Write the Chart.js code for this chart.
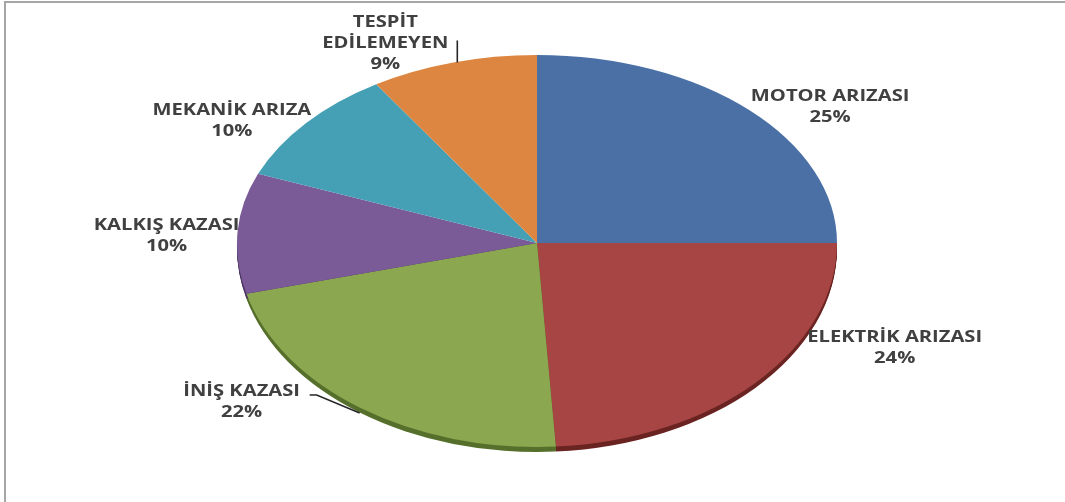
<!DOCTYPE html>
<html>
<head>
<meta charset="utf-8">
<script src="https://cdn.jsdelivr.net/npm/chart.js@4.4.1/dist/chart.umd.min.js"></script>
<style>
  html, body { margin: 0; padding: 0; background: #ffffff; }
  #wrap { position: relative; width: 1065px; height: 502px; overflow: hidden; }
  #frame { position: absolute; left: 4px; top: 1px; width: 1070px; height: 520px;
           border-left: 2px solid #a6a6a6; border-top: 2px solid #a6a6a6; box-sizing: border-box; }
  canvas { position: absolute; left: 0; top: 0; }
</style>
</head>
<body>
<div id="wrap">
  <div id="frame"></div>
  <canvas id="c" width="1065" height="502"></canvas>
</div>
<script>
// Arıza / kaza nedenleri (yüzde)
const categories = ['MOTOR ARIZASI', 'ELEKTRİK ARIZASI', 'İNİŞ KAZASI', 'KALKIŞ KAZASI', 'MEKANİK ARIZA', 'TESPİT EDİLEMEYEN'];
const values = [25, 24, 22, 10, 10, 9];
const labelLines = [['MOTOR ARIZASI'], ['ELEKTRİK ARIZASI'], ['İNİŞ KAZASI'], ['KALKIŞ KAZASI'], ['MEKANİK ARIZA'], ['TESPİT', 'EDİLEMEYEN']];

const sliceColors = ['#4a70a6', '#a64543', '#8ba74f', '#7a5a97', '#45a0b5', '#dc8641'];
const sideColors  = ['#2f4a70', '#6a2422', '#56702c', '#4c3663', '#2a6676', '#935424'];

// Tilted disc: half-axes of the top face (far half is flatter than the near half)
const RX = 300, RY_FAR = 188, RY_NEAR = 204;
const DEPTH = 5;

// Label placement relative to the rim point at each slice's mid-angle
const labelOffsets = [[81, -3], [139, -35], [-119, -6], [-71, 5], [-74, -2], [-68, -19]];

function rimPoint(cx, cy, ang) {
  const s = Math.sin(ang);
  return { x: cx + Math.cos(ang) * RX, y: cy + s * (s < 0 ? RY_FAR : RY_NEAR) };
}

const tiltedPie = {
  id: 'tiltedPie',
  beforeDatasetsDraw(chart) {
    const ctx = chart.ctx;
    const arcs = chart.getDatasetMeta(0).data;
    const cx = arcs[0].x, cy = arcs[0].y, r = arcs[0].outerRadius;
    const W = chart.width, H = chart.height;
    // side wall of the disc (only the near half shows)
    ctx.save();
    ctx.beginPath();
    ctx.rect(0, cy, W, H - cy);
    ctx.clip();
    arcs.forEach((a, i) => {
      ctx.fillStyle = sideColors[i];
      for (let d = DEPTH; d >= 1; d--) {
        ctx.beginPath();
        ctx.moveTo(cx, cy + d);
        ctx.ellipse(cx, cy + d, RX, RY_NEAR, 0, a.startAngle, a.endAngle);
        ctx.closePath();
        ctx.fill();
      }
    });
    ctx.restore();
    // top face: far and near halves drawn with their own vertical scale
    [[0, cy, RY_FAR], [cy, H - cy, RY_NEAR]].forEach(([y0, h, ry]) => {
      ctx.save();
      ctx.beginPath();
      ctx.rect(0, y0, W, h);
      ctx.clip();
      ctx.translate(cx, cy);
      ctx.scale(RX / r, ry / r);
      ctx.translate(-cx, -cy);
      arcs.forEach(a => a.draw(ctx));
      ctx.restore();
    });
    return false;
  },
  afterDraw(chart) {
    const ctx = chart.ctx;
    const arcs = chart.getDatasetMeta(0).data;
    const cx = arcs[0].x, cy = arcs[0].y;
    const total = values.reduce((s, v) => s + v, 0);
    ctx.save();
    ctx.fillStyle = '#404040';
    ctx.font = 'bold 16px "Open Sans"';
    ctx.textAlign = 'center';
    ctx.textBaseline = 'middle';
    const lineH = 21;
    const widen = 1.26;
    arcs.forEach((a, i) => {
      const mid = (a.startAngle + a.endAngle) / 2;
      const p = rimPoint(cx, cy, mid);
      const lx = p.x + labelOffsets[i][0];
      const ly = p.y + labelOffsets[i][1];
      const lines = labelLines[i].concat([Math.round(values[i] / total * 100) + '%']);
      const top = ly - (lines.length - 1) * lineH / 2;
      lines.forEach((t, k) => {
        ctx.save();
        ctx.translate(lx, top + k * lineH);
        ctx.scale(widen, 1);
        ctx.fillText(t, 0, 0);
        ctx.restore();
      });
    });
    // leader lines
    ctx.strokeStyle = '#262626';
    ctx.lineWidth = 1.6;
    {
      const a = arcs[5];
      const p = rimPoint(cx, cy, (a.startAngle + a.endAngle) / 2);
      ctx.beginPath();
      ctx.moveTo(p.x + 4, p.y - 22);
      ctx.lineTo(p.x + 4, p.y);
      ctx.stroke();
    }
    {
      const a = arcs[2];
      const p = rimPoint(cx, cy, (a.startAngle + a.endAngle) / 2);
      ctx.beginPath();
      ctx.moveTo(p.x - 51, p.y - 13);
      ctx.lineTo(p.x - 44, p.y - 13);
      ctx.lineTo(p.x - 1, p.y + DEPTH);
      ctx.stroke();
    }
    ctx.restore();
  }
};

new Chart(document.getElementById('c'), {
  type: 'pie',
  data: {
    labels: categories,
    datasets: [{
      data: values,
      backgroundColor: sliceColors,
      borderWidth: 0,
      hoverOffset: 0
    }]
  },
  options: {
    responsive: false,
    animation: false,
    events: [],
    layout: { padding: { top: 50, bottom: 66, left: 344, right: 335 } },
    plugins: {
      legend: { display: false },
      tooltip: { enabled: false },
      title: { display: false }
    }
  },
  plugins: [tiltedPie]
});
</script>
</body>
</html>
